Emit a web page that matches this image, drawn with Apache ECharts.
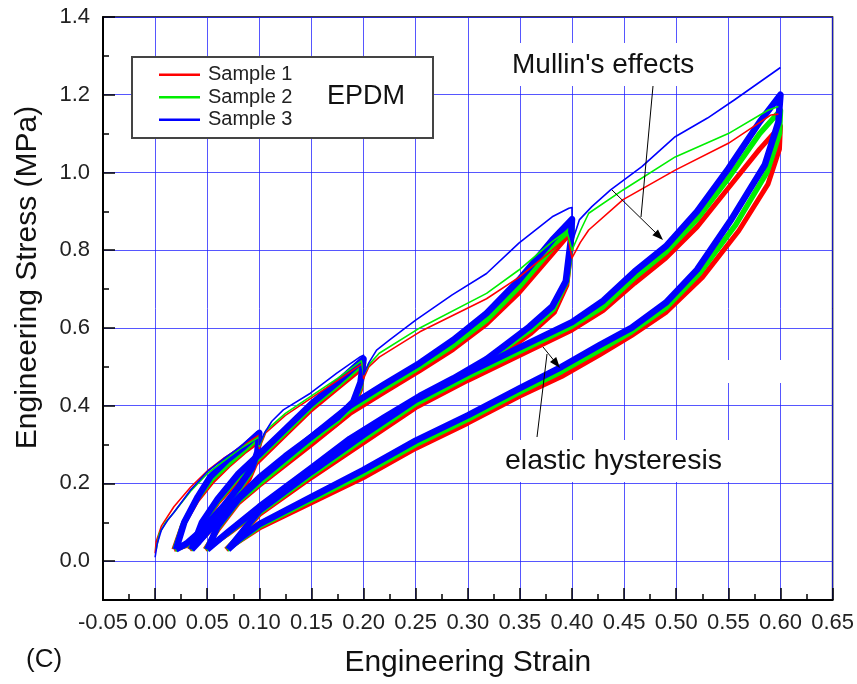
<!DOCTYPE html>
<html lang="en">
<head>
<meta charset="UTF-8">
<title>EPDM cyclic loading</title>
<style>html,body{margin:0;padding:0;background:#fff}#chart{width:857px;height:684px}</style>
</head>
<body>
<div id="chart"></div>
<script src="https://cdn.jsdelivr.net/npm/echarts@6/dist/echarts.min.js"></script>
<script>
// tick values
var yTicks = [0, 0.2, 0.4, 0.6, 0.8, 1.0, 1.2, 1.4];

// envelope (first loading of every stage), strain / stress in MPa
var s1Env = [[0,0.02],[0.001,0.05],[0.006,0.09],[0.018,0.14],[0.034,0.19],[0.05,0.232],[0.066,0.265],[0.082,0.293],[0.1,0.325],
  [0.1,0.29],[0.106,0.33],[0.125,0.375],[0.15,0.42],[0.175,0.465],[0.2,0.51],
  [0.2,0.47],[0.205,0.5],[0.215,0.525],[0.254,0.59],[0.318,0.675],[0.349,0.73],[0.381,0.8],[0.396,0.835],
  [0.4,0.78],[0.408,0.82],[0.416,0.852],[0.449,0.93],[0.499,1.006],[0.55,1.075],[0.591,1.148],[0.598,1.15]];
var s2Env = [[0.001,0.03],[0.004,0.07],[0.01,0.1],[0.018,0.125],[0.034,0.18],[0.05,0.225],[0.066,0.258],[0.082,0.29],[0.1,0.32],
  [0.1,0.295],[0.106,0.335],[0.125,0.38],[0.15,0.425],[0.175,0.47],[0.198,0.515],
  [0.2,0.48],[0.205,0.505],[0.215,0.535],[0.254,0.6],[0.318,0.689],[0.349,0.749],[0.381,0.822],[0.395,0.85],
  [0.4,0.8],[0.408,0.85],[0.416,0.895],[0.449,0.955],[0.499,1.04],[0.55,1.1],[0.588,1.16],[0.598,1.17]];
var s3Env = [[0,0.01],[0.002,0.045],[0.006,0.08],[0.012,0.105],[0.018,0.125],[0.034,0.183],[0.05,0.23],[0.066,0.264],[0.082,0.294],[0.098,0.333],[0.1,0.335],
  [0.1,0.3],[0.105,0.33],[0.112,0.36],[0.123,0.389],[0.149,0.432],[0.174,0.483],[0.197,0.526],[0.2,0.53],
  [0.2,0.48],[0.205,0.51],[0.2125,0.543],[0.225,0.569],[0.25,0.62],[0.285,0.685],[0.318,0.74],[0.349,0.818],[0.381,0.886],[0.397,0.908],[0.4,0.91],
  [0.4,0.82],[0.407,0.878],[0.419,0.912],[0.437,0.955],[0.467,1.015],[0.499,1.092],[0.53,1.14],[0.556,1.187],[0.6,1.27]];

// repeated cycles of each stage (reload up, unload down)
var s1Fan1 = [[0.018,0.03],[0.026,0.09],[0.04,0.155],[0.055,0.205],[0.07,0.245],[0.085,0.28],[0.1,0.31],[0.098,0.26],[0.09,0.21],[0.078,0.17],[0.062,0.12],[0.045,0.075],[0.03,0.04],[0.018,0.03]];
var s1Fan2 = [[0.033,0.03],[0.045,0.09],[0.06,0.15],[0.08,0.21],[0.1,0.26],[0.125,0.325],[0.15,0.39],[0.175,0.445],[0.2,0.5],[0.197,0.44],[0.19,0.395],[0.175,0.355],[0.15,0.305],[0.125,0.255],[0.1,0.2],[0.075,0.14],[0.055,0.085],[0.04,0.045],[0.033,0.03]];
var s1Fan3 = [[0.048,0.03],[0.06,0.08],[0.08,0.15],[0.1,0.195],[0.15,0.3],[0.187,0.38],[0.22,0.435],[0.254,0.49],[0.286,0.545],[0.318,0.61],[0.349,0.69],[0.381,0.79],[0.4,0.85],[0.399,0.8],[0.395,0.71],[0.383,0.64],[0.36,0.585],[0.334,0.535],[0.318,0.505],[0.286,0.455],[0.254,0.41],[0.22,0.355],[0.187,0.3],[0.15,0.225],[0.1,0.13],[0.07,0.07],[0.048,0.03]];
var s1Fan4 = [[0.068,0.03],[0.085,0.075],[0.1,0.12],[0.15,0.215],[0.2,0.305],[0.25,0.395],[0.3,0.465],[0.35,0.53],[0.4,0.595],[0.43,0.645],[0.46,0.715],[0.49,0.78],[0.52,0.86],[0.55,0.96],[0.58,1.06],[0.6,1.12],[0.599,1.06],[0.588,0.97],[0.56,0.85],[0.525,0.73],[0.49,0.64],[0.457,0.58],[0.426,0.53],[0.39,0.475],[0.35,0.425],[0.3,0.355],[0.25,0.29],[0.2,0.215],[0.15,0.15],[0.1,0.085],[0.08,0.05],[0.068,0.03]];

var s2Fan1 = [[0.019,0.03],[0.027,0.095],[0.04,0.16],[0.054,0.21],[0.07,0.25],[0.085,0.285],[0.1,0.32],[0.098,0.27],[0.091,0.225],[0.079,0.18],[0.063,0.13],[0.045,0.078],[0.03,0.042],[0.019,0.03]];
var s2Fan2 = [[0.034,0.03],[0.045,0.095],[0.06,0.155],[0.08,0.218],[0.1,0.268],[0.125,0.332],[0.15,0.398],[0.175,0.452],[0.2,0.51],[0.197,0.45],[0.19,0.402],[0.175,0.362],[0.15,0.312],[0.125,0.262],[0.1,0.208],[0.075,0.145],[0.055,0.088],[0.041,0.048],[0.034,0.03]];
var s2Fan3 = [[0.049,0.03],[0.06,0.085],[0.08,0.155],[0.1,0.2],[0.15,0.31],[0.187,0.39],[0.22,0.445],[0.254,0.5],[0.286,0.555],[0.318,0.62],[0.349,0.705],[0.381,0.805],[0.4,0.86],[0.399,0.81],[0.395,0.72],[0.382,0.648],[0.36,0.595],[0.334,0.545],[0.318,0.512],[0.286,0.462],[0.254,0.418],[0.22,0.362],[0.187,0.308],[0.15,0.232],[0.1,0.135],[0.07,0.072],[0.049,0.03]];
var s2Fan4 = [[0.069,0.03],[0.085,0.078],[0.1,0.125],[0.15,0.222],[0.2,0.315],[0.25,0.405],[0.3,0.475],[0.35,0.54],[0.4,0.605],[0.43,0.655],[0.46,0.73],[0.49,0.795],[0.52,0.88],[0.55,0.985],[0.58,1.1],[0.6,1.16],[0.599,1.1],[0.587,1.0],[0.557,0.865],[0.522,0.74],[0.49,0.652],[0.457,0.59],[0.426,0.542],[0.39,0.488],[0.35,0.435],[0.3,0.365],[0.25,0.3],[0.2,0.225],[0.15,0.158],[0.1,0.09],[0.08,0.052],[0.069,0.03]];

var s3Fan1 = [[0.02,0.03],[0.028,0.1],[0.041,0.166],[0.053,0.217],[0.069,0.26],[0.085,0.294],[0.1,0.33],[0.098,0.28],[0.093,0.24],[0.08,0.19],[0.065,0.14],[0.045,0.08],[0.03,0.045],[0.02,0.03]];
var s3Fan2 = [[0.035,0.03],[0.045,0.1],[0.06,0.16],[0.08,0.225],[0.1,0.275],[0.125,0.34],[0.15,0.405],[0.175,0.46],[0.2,0.52],[0.197,0.46],[0.19,0.41],[0.175,0.37],[0.15,0.32],[0.125,0.27],[0.1,0.215],[0.075,0.15],[0.055,0.09],[0.042,0.05],[0.035,0.03]];
var s3Fan3 = [[0.05,0.03],[0.06,0.09],[0.08,0.16],[0.1,0.21],[0.15,0.32],[0.187,0.4],[0.22,0.455],[0.254,0.51],[0.286,0.569],[0.318,0.638],[0.349,0.723],[0.381,0.826],[0.4,0.88],[0.399,0.83],[0.394,0.72],[0.381,0.655],[0.359,0.603],[0.334,0.552],[0.318,0.52],[0.286,0.47],[0.254,0.425],[0.22,0.37],[0.187,0.315],[0.15,0.24],[0.1,0.14],[0.07,0.075],[0.05,0.03]];
var s3Fan4 = [[0.07,0.03],[0.085,0.08],[0.1,0.13],[0.15,0.23],[0.2,0.325],[0.25,0.415],[0.3,0.485],[0.35,0.55],[0.4,0.615],[0.43,0.67],[0.46,0.745],[0.49,0.81],[0.52,0.9],[0.55,1.01],[0.58,1.13],[0.6,1.2],[0.598,1.13],[0.585,1.02],[0.553,0.88],[0.52,0.75],[0.49,0.665],[0.457,0.6],[0.426,0.555],[0.39,0.5],[0.35,0.445],[0.3,0.375],[0.25,0.31],[0.2,0.235],[0.15,0.165],[0.1,0.095],[0.08,0.055],[0.07,0.03]];

var font = 'Arial, "Liberation Sans", sans-serif';

function line(name, color, data, width) {
    return {
        name: name, type: 'line', data: data, showSymbol: false, symbol: 'none',
        lineStyle: {color: color, width: width, join: 'round'}, itemStyle: {color: color},
        silent: true
    };
}

var series = [
    line('Sample 1', '#ff0000', s1Fan1, 5), line('Sample 1', '#ff0000', s1Fan2, 5),
    line('Sample 1', '#ff0000', s1Fan3, 5), line('Sample 1', '#ff0000', s1Fan4, 5),
    line('Sample 2', '#00ee00', s2Fan1, 5.5), line('Sample 2', '#00ee00', s2Fan2, 5.5),
    line('Sample 2', '#00ee00', s2Fan3, 5.5), line('Sample 2', '#00ee00', s2Fan4, 5.5),
    line('Sample 3', '#0000ff', s3Fan1, 6.5), line('Sample 3', '#0000ff', s3Fan2, 6.5),
    line('Sample 3', '#0000ff', s3Fan3, 6.5), line('Sample 3', '#0000ff', s3Fan4, 6.5),
    line('Sample 1', '#ff0000', s1Env, 1.6),
    line('Sample 2', '#00ee00', s2Env, 1.6),
    line('Sample 3', '#0000ff', s3Env, 1.6)
];

var chart = echarts.init(document.getElementById('chart'));
chart.setOption({
    animation: false,
    backgroundColor: '#fff',
    textStyle: {fontFamily: font},
    grid: {left: 103, top: 17, right: 24, bottom: 84, show: true, borderColor: '#000', borderWidth: 1.5},
    legend: {
        data: ['Sample 1', 'Sample 2', 'Sample 3'],
        orient: 'vertical', left: 159, top: 64, padding: 0, itemGap: 1,
        icon: 'rect', itemWidth: 41, itemHeight: 2.5,
        textStyle: {fontFamily: font, fontSize: 20, color: '#222', lineHeight: 21.5, padding: [0, 0, 0, 3]},
        selectedMode: false, z: 5
    },
    xAxis: {
        type: 'value', min: -0.05, max: 0.65, interval: 0.05,
        name: 'Engineering Strain', nameLocation: 'middle', nameGap: 48,
        nameTextStyle: {fontSize: 30, color: '#111', fontFamily: font},
        axisLine: {show: true, onZero: false, lineStyle: {color: '#000', width: 2}},
        axisTick: {inside: true, length: 12, lineStyle: {color: '#000', width: 1.5}},
        minorTick: {show: true, splitNumber: 2, length: 6, lineStyle: {color: '#000', width: 1.5}},
        axisLabel: {fontSize: 22, color: '#222', margin: 12, formatter: function (v) { return v.toFixed(2); }},
        splitLine: {show: true, lineStyle: {color: 'rgba(30,30,255,0.75)', width: 1}}
    },
    yAxis: [{
        type: 'value', min: -0.1, max: 1.4, interval: 0.1,
        name: 'Engineering Stress (MPa)', nameLocation: 'middle', nameGap: 60,
        nameTextStyle: {fontSize: 30, color: '#111', fontFamily: font, padding: [0, 0, 0, 62]},
        axisLine: {show: true, onZero: false, lineStyle: {color: '#000', width: 2}},
        axisTick: {inside: true, length: 12, customValues: yTicks, lineStyle: {color: '#000', width: 1.5}},
        axisLabel: {fontSize: 22, color: '#222', margin: 13, customValues: yTicks, formatter: function (v) { return v.toFixed(1); }},
        splitLine: {show: true, lineStyle: {color: 'rgba(30,30,255,0.75)', width: 1}}
    }, {
        type: 'value', min: -0.1, max: 1.4, interval: 0.1, position: 'left',
        axisLine: {show: false, onZero: false},
        axisTick: {inside: true, length: 6, lineStyle: {color: '#000', width: 1.5}},
        axisLabel: {show: false},
        splitLine: {show: false}
    }],
    series: series,
    graphic: [
        {type: 'rect', shape: {x: 132, y: 57, width: 301, height: 81}, style: {fill: '#fff', stroke: '#444', lineWidth: 2}, z: 3},
        {type: 'text', x: 327, y: 97, style: {text: 'EPDM', font: '27px ' + font, fill: '#111', verticalAlign: 'middle'}, z: 10},
        {type: 'rect', shape: {x: 490, y: 43, width: 226, height: 43}, style: {fill: '#fff'}, z: 1},
        {type: 'rect', shape: {x: 494, y: 440, width: 262, height: 42}, style: {fill: '#fff'}, z: 1},
        {type: 'rect', shape: {x: 716, y: 360, width: 96, height: 23}, style: {fill: '#fff'}, z: 1},
        {type: 'text', x: 512, y: 65, style: {text: "Mullin's effects", font: '28px ' + font, fill: '#111', verticalAlign: 'middle'}, z: 10},
        {type: 'text', x: 505, y: 461, style: {text: 'elastic hysteresis', font: '28.5px ' + font, fill: '#111', verticalAlign: 'middle'}, z: 10},
        {type: 'text', x: 26, y: 660, style: {text: '(C)', font: '26px ' + font, fill: '#111', verticalAlign: 'middle'}, z: 10},
        {type: 'line', shape: {x1: 653, y1: 86, x2: 641, y2: 217}, style: {stroke: '#000', lineWidth: 1}, z: 10},
        {type: 'line', shape: {x1: 612, y1: 190, x2: 658, y2: 235}, style: {stroke: '#000', lineWidth: 1}, z: 10},
        {type: 'polygon', shape: {points: [[663, 240], [652.4, 235.2], [658, 229.4]]}, style: {fill: '#000'}, z: 10},
        {type: 'line', shape: {x1: 537, y1: 437, x2: 547, y2: 354}, style: {stroke: '#000', lineWidth: 1}, z: 10},
        {type: 'line', shape: {x1: 543, y1: 347, x2: 556, y2: 363}, style: {stroke: '#000', lineWidth: 1}, z: 10},
        {type: 'polygon', shape: {points: [[560, 368], [550, 362], [556.2, 356.9]]}, style: {fill: '#000'}, z: 10}
    ]
});
</script>
</body>
</html>
